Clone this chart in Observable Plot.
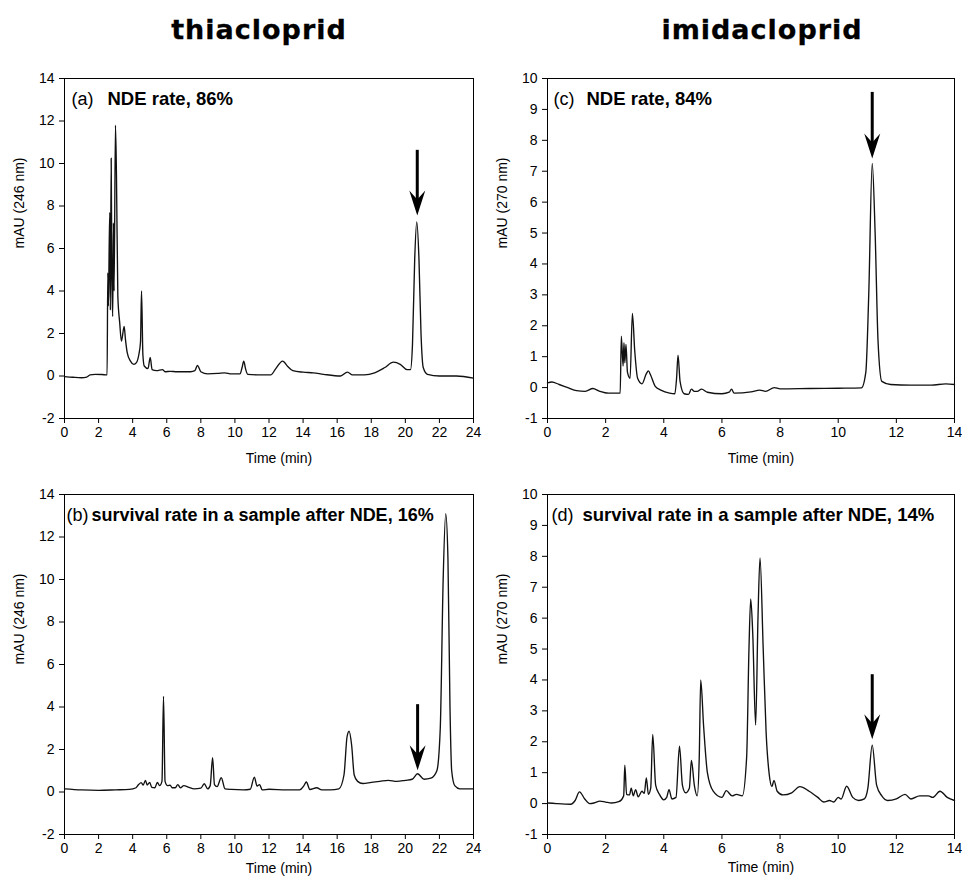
<!DOCTYPE html>
<html>
<head>
<meta charset="utf-8">
<script src="https://cdn.jsdelivr.net/npm/d3@7"></script>
<script src="https://cdn.jsdelivr.net/npm/@observablehq/plot@0.6"></script>
<style>
  body { margin: 0; background: #fff; }
  #root { position: relative; width: 962px; height: 887px; overflow: hidden; background: #fff; }
  .title { position: absolute; top: 16px; font-family: "DejaVu Sans", sans-serif; font-weight: bold; font-size: 27px; line-height: 27px; letter-spacing: 1px; white-space: nowrap; transform: translateX(-50%); color: #000; -webkit-text-stroke: 0.3px #000; }
  .panel { position: absolute; }
</style>
</head>
<body>
<div id="root"></div>
<script>
// ---------- text ----------
const titles = ["thiacloprid", "imidacloprid"];
const letters = ["(a)", "(b)", "(c)", "(d)"];
const captions = ["NDE rate, 86%", "survival rate in a sample after NDE, 16%", "NDE rate, 84%", "survival rate in a sample after NDE, 14%"];
const yLabels = ["mAU (246 nm)", "mAU (270 nm)"];
const xLabel = "Time (min)";

// ---------- ticks ----------
const xTicks24 = [0, 2, 4, 6, 8, 10, 12, 14, 16, 18, 20, 22, 24];
const xTicks14 = [0, 2, 4, 6, 8, 10, 12, 14];
const yTicksThia = [-2, 0, 2, 4, 6, 8, 10, 12, 14];
const yTicksImi = [-1, 0, 1, 2, 3, 4, 5, 6, 7, 8, 9, 10];

// ---------- (a) thiacloprid, NDE ----------
const timeA = [0, 0.5, 1.0, 1.3, 1.5, 1.8, 2.2, 2.5, 2.54, 2.58, 2.62, 2.66, 2.69, 2.74, 2.78, 2.83, 2.87, 2.91, 2.99, 3.05, 3.13, 3.24, 3.34, 3.5, 3.58, 3.68, 3.87, 4.07, 4.22, 4.36, 4.46, 4.52, 4.6, 4.68, 4.9, 5.03, 5.14, 5.4, 5.75, 5.9, 6.2, 6.6, 7.0, 7.4, 7.65, 7.8, 8.0, 8.4, 9.0, 9.4, 9.8, 10.3, 10.42, 10.52, 10.62, 10.75, 11.5, 12.1, 12.4, 12.8, 13.1, 13.4, 14.0, 14.6, 15.2, 16.2, 16.6, 16.9, 17.6, 18.2, 18.8, 19.3, 19.7, 20.1, 20.3, 20.42, 20.55, 20.67, 20.8, 20.92, 21.05, 21.3, 22.0, 23.0, 24.0];
const mauA  = [-0.03, -0.06, -0.08, -0.05, 0.05, 0.08, 0.07, 0.05, 4.85, 3.3, 6.0, 7.7, 3.1, 10.25, 4.5, 2.8, 7.2, 4.0, 11.8, 9.4, 3.75, 2.5, 1.64, 2.33, 1.7, 1.1, 0.7, 0.55, 0.63, 1.0, 1.6, 4.0, 1.0, 0.47, 0.35, 0.88, 0.3, 0.25, 0.3, 0.2, 0.22, 0.2, 0.2, 0.2, 0.25, 0.5, 0.2, 0.1, 0.12, 0.15, 0.1, 0.1, 0.4, 0.7, 0.35, 0.08, 0.05, 0.05, 0.35, 0.7, 0.45, 0.25, 0.18, 0.15, 0.08, 0.0, 0.18, 0.05, 0.05, 0.15, 0.4, 0.65, 0.55, 0.3, 0.3, 1.5, 5.5, 7.25, 5.5, 2.0, 0.4, 0.08, 0.0, 0.0, -0.1];

// ---------- (b) thiacloprid, after NDE ----------
const timeB = [0, 1, 2, 3, 3.8, 4.2, 4.35, 4.5, 4.62, 4.75, 4.85, 5.0, 5.12, 5.3, 5.45, 5.58, 5.72, 5.81, 5.9, 6.05, 6.2, 6.32, 6.5, 6.65, 6.8, 7.0, 7.3, 7.6, 8.0, 8.2, 8.4, 8.55, 8.69, 8.8, 8.95, 9.2, 9.42, 9.8, 10.5, 10.9, 11.14, 11.3, 11.45, 11.6, 12.0, 13.0, 13.8, 14.05, 14.19, 14.4, 14.8, 15.1, 15.6, 16.1, 16.4, 16.58, 16.7, 16.85, 17.0, 17.2, 17.5, 18.0, 18.5, 19.0, 19.5, 20.0, 20.4, 20.72, 21.1, 21.5, 21.85, 22.05, 22.22, 22.37, 22.5, 22.62, 22.72, 22.9, 23.2, 24.0];
const mauB  = [0.15, 0.1, 0.08, 0.1, 0.12, 0.2, 0.35, 0.44, 0.33, 0.55, 0.33, 0.45, 0.22, 0.2, 0.45, 0.3, 0.5, 4.5, 0.5, 0.3, 0.32, 0.2, 0.2, 0.35, 0.2, 0.3, 0.22, 0.15, 0.18, 0.39, 0.15, 0.3, 1.62, 0.35, 0.25, 0.67, 0.15, 0.12, 0.1, 0.13, 0.7, 0.28, 0.35, 0.1, 0.13, 0.1, 0.1, 0.3, 0.47, 0.12, 0.2, 0.1, 0.1, 0.15, 0.8, 2.6, 2.86, 2.2, 0.8, 0.5, 0.4, 0.45, 0.5, 0.55, 0.5, 0.55, 0.6, 0.86, 0.6, 0.65, 1.0, 3.0, 10.0, 13.1, 11.0, 4.0, 1.0, 0.3, 0.15, 0.15];

// ---------- (c) imidacloprid, NDE ----------
const timeC = [0, 0.15, 0.4, 0.7, 1.0, 1.3, 1.56, 1.8, 2.1, 2.5, 2.54, 2.6, 2.63, 2.66, 2.7, 2.75, 2.84, 2.92, 3.0, 3.1, 3.25, 3.4, 3.47, 3.55, 3.7, 3.9, 4.2, 4.38, 4.44, 4.49, 4.56, 4.7, 4.85, 4.95, 5.05, 5.15, 5.3, 5.5, 6.0, 6.25, 6.33, 6.42, 7.0, 7.3, 7.5, 7.8, 8.0, 9.0, 10.0, 10.8, 10.95, 11.05, 11.17, 11.27, 11.37, 11.5, 11.8, 12.5, 13.2, 13.7, 14.0];
const mauC  = [0.15, 0.18, 0.1, 0.0, -0.1, -0.12, -0.03, -0.12, -0.18, -0.18, 1.66, 0.7, 1.45, 0.8, 1.4, 0.5, 0.3, 2.4, 1.2, 0.3, 0.12, 0.45, 0.54, 0.4, 0.05, -0.08, -0.18, -0.2, 0.3, 1.05, 0.2, -0.2, -0.22, -0.05, -0.12, -0.12, -0.05, -0.15, -0.2, -0.15, -0.05, -0.18, -0.14, -0.08, -0.12, 0.0, -0.04, -0.03, -0.02, -0.01, 0.5, 3.0, 7.25, 5.0, 1.5, 0.2, 0.1, 0.08, 0.08, 0.12, 0.1];

// ---------- (d) imidacloprid, after NDE ----------
const timeD = [0, 0.3, 0.8, 0.95, 1.1, 1.28, 1.45, 1.6, 1.8, 2.0, 2.2, 2.45, 2.62, 2.66, 2.72, 2.82, 2.88, 2.95, 3.03, 3.12, 3.25, 3.33, 3.4, 3.47, 3.55, 3.62, 3.72, 3.85, 4.0, 4.1, 4.18, 4.28, 4.42, 4.54, 4.64, 4.75, 4.88, 4.95, 5.05, 5.15, 5.22, 5.27, 5.37, 5.5, 5.7, 6.0, 6.15, 6.35, 6.5, 6.7, 6.85, 6.93, 6.99, 7.06, 7.16, 7.24, 7.31, 7.42, 7.52, 7.62, 7.72, 7.79, 7.9, 8.1, 8.4, 8.68, 9.0, 9.3, 9.5, 9.7, 9.85, 10.0, 10.1, 10.29, 10.5, 10.7, 10.9, 11.02, 11.17, 11.32, 11.5, 11.7, 12.0, 12.3, 12.5, 12.8, 13.1, 13.25, 13.5, 13.75, 14.0];
const mauD  = [0.02, 0.0, -0.02, 0.1, 0.38, 0.15, 0.0, 0.02, 0.08, 0.05, 0.02, 0.06, 0.25, 1.24, 0.3, 0.28, 0.5, 0.25, 0.45, 0.22, 0.4, 0.33, 0.83, 0.3, 0.5, 2.24, 0.6, 0.3, 0.12, 0.2, 0.45, 0.15, 0.2, 1.86, 0.6, 0.35, 0.5, 1.4, 0.6, 0.25, 1.5, 4.0, 2.5, 1.0, 0.4, 0.2, 0.42, 0.25, 0.3, 0.25, 1.5, 5.0, 6.62, 5.5, 2.54, 6.0, 7.95, 5.0, 2.3, 1.0, 0.55, 0.75, 0.4, 0.28, 0.35, 0.55, 0.4, 0.2, 0.05, 0.1, 0.05, 0.2, 0.15, 0.56, 0.2, 0.1, 0.15, 0.5, 1.89, 0.6, 0.25, 0.1, 0.15, 0.3, 0.15, 0.25, 0.25, 0.2, 0.4, 0.2, 0.1];

// ---------- arrows (a, b, c, d) ----------
const arrowTime = [20.7, 20.72, 11.17, 11.17];
const arrowTop  = [10.62, 4.11, 9.55, 4.17];
const arrowTip  = [7.55, 1.02, 7.41, 2.08];

// ---------- layout ----------
const root = document.getElementById("root");
[[titles[0], 259], [titles[1], 762]].forEach(([t, cx]) => {
  const d = document.createElement("div");
  d.className = "title";
  d.style.left = cx + "px";
  d.textContent = t;
  root.appendChild(d);
});

const arrowHead = {
  draw(ctx) {
    ctx.moveTo(0, 0);
    ctx.lineTo(-8, -25);
    ctx.lineTo(0, -16);
    ctx.lineTo(8, -25);
    ctx.closePath();
  }
};

const panels = [
  {i: 0, left: 0,   top: 60,  time: timeA, mau: mauA, xDomain: [0, 24], xTicks: xTicks24, yDomain: [-2, 14], yTicks: yTicksThia, yLabel: yLabels[0], ml: 64, letterDx: 7, capDx: 43, capSize: 18.5, xLabelDy: 44},
  {i: 1, left: 0,   top: 476, time: timeB, mau: mauB, xDomain: [0, 24], xTicks: xTicks24, yDomain: [-2, 14], yTicks: yTicksThia, yLabel: yLabels[0], ml: 64, letterDx: 2, capDx: 27, capSize: 18, xLabelDy: 38},
  {i: 2, left: 481, top: 60,  time: timeC, mau: mauC, xDomain: [0, 14], xTicks: xTicks14, yDomain: [-1, 10], yTicks: yTicksImi, yLabel: yLabels[1], ml: 66, letterDx: 6, capDx: 39, capSize: 18.5, xLabelDy: 44},
  {i: 3, left: 481, top: 476, time: timeD, mau: mauD, xDomain: [0, 14], xTicks: xTicks14, yDomain: [-1, 10], yTicks: yTicksImi, yLabel: yLabels[1], ml: 66, letterDx: 4, capDx: 35, capSize: 18.5, xLabelDy: 37}
];

for (const p of panels) {
  const data = p.time.map((t, k) => ({t, v: p.mau[k]}));
  const arrow = [{t: arrowTime[p.i], top: arrowTop[p.i], tip: arrowTip[p.i]}];
  const chart = Plot.plot({
    width: 481,
    height: 410,
    marginTop: 18,
    marginBottom: 52,
    marginLeft: p.ml,
    marginRight: 8,
    style: {fontFamily: "'Liberation Sans', Arial, sans-serif", fontSize: "14px", color: "#000", background: "transparent", overflow: "visible"},
    x: {domain: p.xDomain},
    y: {domain: p.yDomain},
    marks: [
      Plot.axisX({ticks: p.xTicks, tickSize: 5, tickPadding: 4, tickFormat: d => String(d), label: null, fontSize: 14}),
      Plot.axisY({ticks: p.yTicks, tickSize: 5, tickPadding: 5, tickFormat: d => String(d), label: null, fontSize: 14}),
      Plot.frame({stroke: "#000", strokeWidth: 1}),
      Plot.line(data, {x: "t", y: "v", stroke: "#111", strokeWidth: 1.35, curve: "monotone-x"}),
      Plot.ruleX(arrow, {x: "t", y1: "top", y2: "tip", stroke: "#000", strokeWidth: 3, insetBottom: 14}),
      Plot.dot(arrow, {x: "t", y: "tip", symbol: arrowHead, r: 3, fill: "#000", stroke: "none"}),
      Plot.text([letters[p.i]], {frameAnchor: "top-left", dx: p.letterDx, dy: 26, lineAnchor: "bottom", textAnchor: "start", fontSize: 18, fill: "#000"}),
      Plot.text([captions[p.i]], {frameAnchor: "top-left", dx: p.capDx, dy: 26, lineAnchor: "bottom", textAnchor: "start", fontSize: p.capSize, fontWeight: "bold", fill: "#000"}),
      Plot.text([p.yLabel], {frameAnchor: "left", dx: -45, rotate: -90, fontSize: 14, fill: "#000"}),
      Plot.text([xLabel], {frameAnchor: "bottom", dx: 10, dy: p.xLabelDy, fontSize: 14, fill: "#000"})
    ]
  });
  const wrap = document.createElement("div");
  wrap.className = "panel";
  wrap.style.left = p.left + "px";
  wrap.style.top = p.top + "px";
  wrap.appendChild(chart);
  root.appendChild(wrap);
}
</script>
</body>
</html>
